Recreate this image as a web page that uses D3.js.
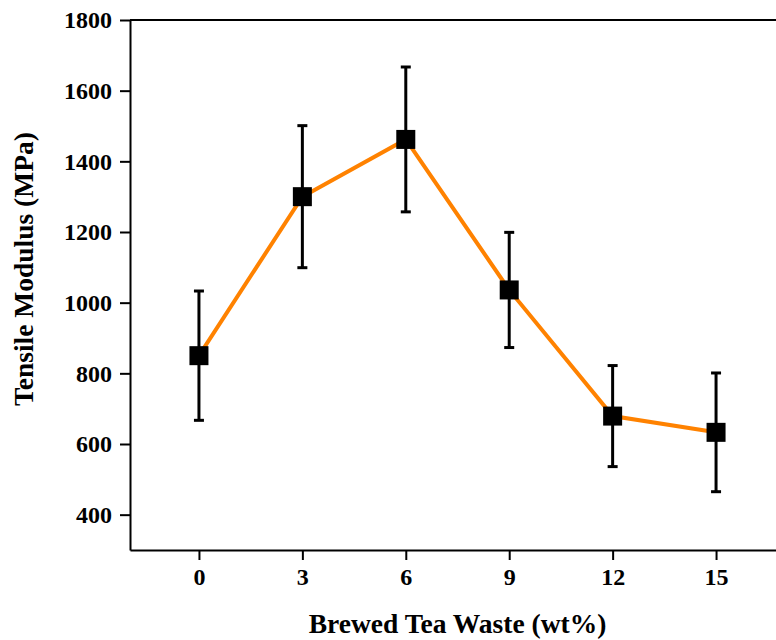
<!DOCTYPE html>
<html>
<head>
<meta charset="utf-8">
<script src="https://cdn.jsdelivr.net/npm/d3@7"></script>
<style>
  html, body { margin: 0; padding: 0; background: #fff; overflow: hidden; }
  svg { display: block; }
  text { font-family: "Liberation Serif", "Times New Roman", serif; font-weight: bold; }
</style>
</head>
<body>
<svg id="chart" width="776" height="640"></svg>
<script>
// ---- data ----
const loadings = [0, 3, 6, 9, 12, 15];                 // wt%
const modulus  = [850, 1300, 1462, 1036, 679, 633];    // MPa
const errors   = [183, 201, 205, 163, 143, 168];       // MPa (std dev)
const xTicks   = [0, 3, 6, 9, 12, 15];
const yTicks   = [400, 600, 800, 1000, 1200, 1400, 1600, 1800];
const xTitle   = "Brewed Tea Waste (wt%)";
const yTitle   = "Tensile Modulus (MPa)";

const svg = d3.select("#chart");
const x = d3.scaleLinear().domain([-2, 17]).range([130, 785]);
const y = d3.scaleLinear().domain([300, 1800]).range([550, 20]);

// frame (top spine + right spine off-canvas)
svg.append("line").attr("x1", x(-2)).attr("x2", x(17)).attr("y1", y(1800)).attr("y2", y(1800))
  .attr("stroke", "#000").attr("stroke-width", 2);
svg.append("line").attr("x1", x(17)).attr("x2", x(17)).attr("y1", y(1800)).attr("y2", y(300))
  .attr("stroke", "#000").attr("stroke-width", 2);

// axes
const fmt = d3.format("d");
const xAxis = d3.axisBottom(x).tickValues(xTicks).tickFormat(fmt).tickSize(10).tickPadding(8).tickSizeOuter(0);
const yAxis = d3.axisLeft(y).tickValues(yTicks).tickFormat(fmt).tickSize(10).tickPadding(8).tickSizeOuter(0);

const gx = svg.append("g").attr("transform", `translate(0,${y(300)})`).call(xAxis);
const gy = svg.append("g").attr("transform", `translate(${x(-2)},0)`).call(yAxis);
[gx, gy].forEach(g => {
  g.select(".domain").attr("stroke", "#000").attr("stroke-width", 2);
  g.selectAll(".tick line").attr("stroke", "#000").attr("stroke-width", 2);
  g.selectAll(".tick text")
    .style("font-family", "'Liberation Serif', serif")
    .style("font-weight", "bold")
    .style("font-size", "24px")
    .attr("fill", "#000");
});

// axis titles
svg.append("text")
  .attr("x", x(7.5)).attr("y", 633)
  .attr("text-anchor", "middle")
  .style("font-size", "27.5px")
  .text(xTitle);
svg.append("text")
  .attr("transform", `translate(33,${y(1095)}) rotate(-90)`)
  .attr("text-anchor", "middle")
  .style("font-size", "27.5px")
  .text(yTitle);

// data
const data = loadings.map((l, i) => ({ l, v: modulus[i], e: errors[i] }));

// line
svg.append("path")
  .datum(data)
  .attr("fill", "none")
  .attr("stroke", "#ff8200")
  .attr("stroke-width", 4)
  .attr("d", d3.line().x(d => x(d.l)).y(d => y(d.v)));

// error bars
const eb = svg.append("g").attr("stroke", "#000").attr("stroke-width", 3);
eb.selectAll("line.v").data(data).join("line")
  .attr("x1", d => x(d.l)).attr("x2", d => x(d.l))
  .attr("y1", d => y(d.v + d.e)).attr("y2", d => y(d.v - d.e));
eb.selectAll("line.t").data(data).join("line")
  .attr("x1", d => x(d.l) - 5).attr("x2", d => x(d.l) + 5)
  .attr("y1", d => y(d.v + d.e)).attr("y2", d => y(d.v + d.e));
eb.selectAll("line.b").data(data).join("line")
  .attr("x1", d => x(d.l) - 5).attr("x2", d => x(d.l) + 5)
  .attr("y1", d => y(d.v - d.e)).attr("y2", d => y(d.v - d.e));

// markers
const s = 19;
svg.append("g").selectAll("rect").data(data).join("rect")
  .attr("x", d => x(d.l) - s / 2).attr("y", d => y(d.v) - s / 2)
  .attr("width", s).attr("height", s)
  .attr("fill", "#000");
</script>
</body>
</html>
